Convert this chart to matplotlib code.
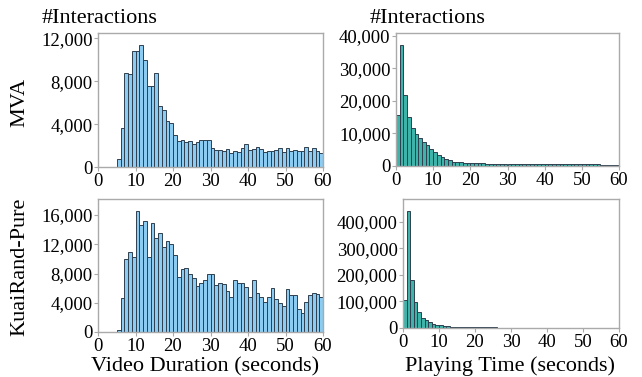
import numpy as np
import matplotlib
matplotlib.use('Agg')
import matplotlib.pyplot as plt
from matplotlib.ticker import FuncFormatter

plt.rcParams['font.family'] = ['Liberation Serif', 'DejaVu Serif']

# 1-second bins from 0 to 60
bin_left = np.arange(0, 60)

# MVA - video duration (counts per bin, bins 0..59)
mva_duration = [0, 0, 0, 0, 0, 700, 3600, 8750, 8650, 10800,
                10800, 11400, 10000, 7550, 7600, 8800, 5700, 5300, 4250, 4150,
                2950, 2400, 2500, 2350, 2400, 2150, 2300, 2500, 2500, 2500,
                1800, 1600, 1600, 1500, 1650, 1300, 1500, 1400, 1750, 2100,
                1600, 1700, 1850, 1650, 1400, 1500, 1500, 1550, 1750, 1400,
                1750, 1500, 1600, 1500, 1500, 1850, 1500, 1750, 1500, 1300]

# KuaiRand-Pure - video duration
kr_duration = [0, 0, 0, 0, 0, 300, 4700, 10000, 10900, 10200,
               16500, 14600, 15200, 10300, 14900, 12900, 13600, 11700, 12500, 12000,
               10600, 7500, 8600, 8700, 8000, 7400, 6350, 6750, 7100, 8000,
               8000, 6400, 6750, 6550, 5650, 4800, 7050, 6700, 6700, 6200,
               4800, 7150, 5400, 4750, 4100, 4850, 6050, 4450, 4000, 3550,
               5850, 5050, 5000, 3200, 2650, 4050, 5000, 5400, 5150, 4800]

# MVA - playing time
mva_playing = [15700, 37000, 21700, 15000, 11600, 9700, 8700, 7500, 6500, 5200,
               4200, 3400, 2700, 2300, 1700, 1300, 1100, 1100, 1000, 950,
               900, 850, 800, 780, 750, 720, 700, 680, 660, 640,
               620, 600, 600, 580, 580, 560, 560, 550, 550, 540,
               540, 530, 530, 520, 520, 510, 510, 500, 500, 490,
               490, 480, 480, 470, 470, 460, 460, 450, 450, 440]

# KuaiRand-Pure - playing time
kr_playing = [104000, 441000, 180000, 96000, 59000, 39000, 29000, 21000, 16000, 12600,
              10000, 7500, 6300, 5000, 4200, 3600, 3200, 2900, 2700, 2500,
              2400, 2300, 2200, 2100, 2000, 1900, 1800, 1750, 1700, 1650,
              1600, 1550, 1500, 1450, 1400, 1350, 1300, 1250, 1200, 1150,
              0, 0, 0, 0, 0, 0, 0, 0, 0, 0,
              0, 0, 0, 0, 0, 0, 0, 0, 0, 0]

blue = '#8ccbf2'
teal = '#3db3a9'
edge = '#2f3f4f'
spine_col = '#aaaaaa'

W, H = 642, 377
fig = plt.figure(figsize=(W / 100, H / 100), dpi=100)


def box(l, r, t, b):
    return [l / W, 1 - b / H, (r - l) / W, (b - t) / H]


comma = FuncFormatter(lambda v, p: f'{int(v):,}')


def draw(ax, values, color, ymax, yticks):
    ax.bar(bin_left, values, width=1.0, align='edge', color=color,
           edgecolor=edge, linewidth=0.7)
    ax.set_xlim(0, 60)
    ax.set_ylim(0, ymax)
    ax.set_xticks([0, 10, 20, 30, 40, 50, 60])
    ax.set_yticks(yticks)
    ax.yaxis.set_major_formatter(comma)
    ax.tick_params(labelsize=13.5, length=3, width=0.8, color=spine_col, pad=1)
    for s in ax.spines.values():
        s.set_color(spine_col)
        s.set_linewidth(1.0)


ax1 = fig.add_axes(box(98, 323, 33, 167))
draw(ax1, mva_duration, blue, 12500, [0, 4000, 8000, 12000])

ax2 = fig.add_axes(box(98, 323, 199, 332))
draw(ax2, kr_duration, blue, 18200, [0, 4000, 8000, 12000, 16000])

ax3 = fig.add_axes(box(396, 619, 33, 166))
draw(ax3, mva_playing, teal, 40800, [0, 10000, 20000, 30000, 40000])

ax4 = fig.add_axes(box(403, 619, 199, 328))
draw(ax4, kr_playing, teal, 485000, [0, 100000, 200000, 300000, 400000])

fig.text(42 / W, 1 - 23 / H, '#Interactions', fontsize=16, ha='left', va='baseline')
fig.text(370 / W, 1 - 23 / H, '#Interactions', fontsize=16, ha='left', va='baseline')

fig.text(20 / W, 1 - 102 / H, 'MVA', fontsize=16, rotation=90, ha='center', va='center')
fig.text(20 / W, 1 - 267 / H, 'KuaiRand-Pure', fontsize=16, rotation=90, ha='center', va='center')

fig.text(205 / W, 1 - 371 / H, 'Video Duration (seconds)', fontsize=16, ha='center', va='baseline')
fig.text(510 / W, 1 - 371 / H, 'Playing Time (seconds)', fontsize=16, ha='center', va='baseline')

fig.savefig('out.png', dpi=100)
